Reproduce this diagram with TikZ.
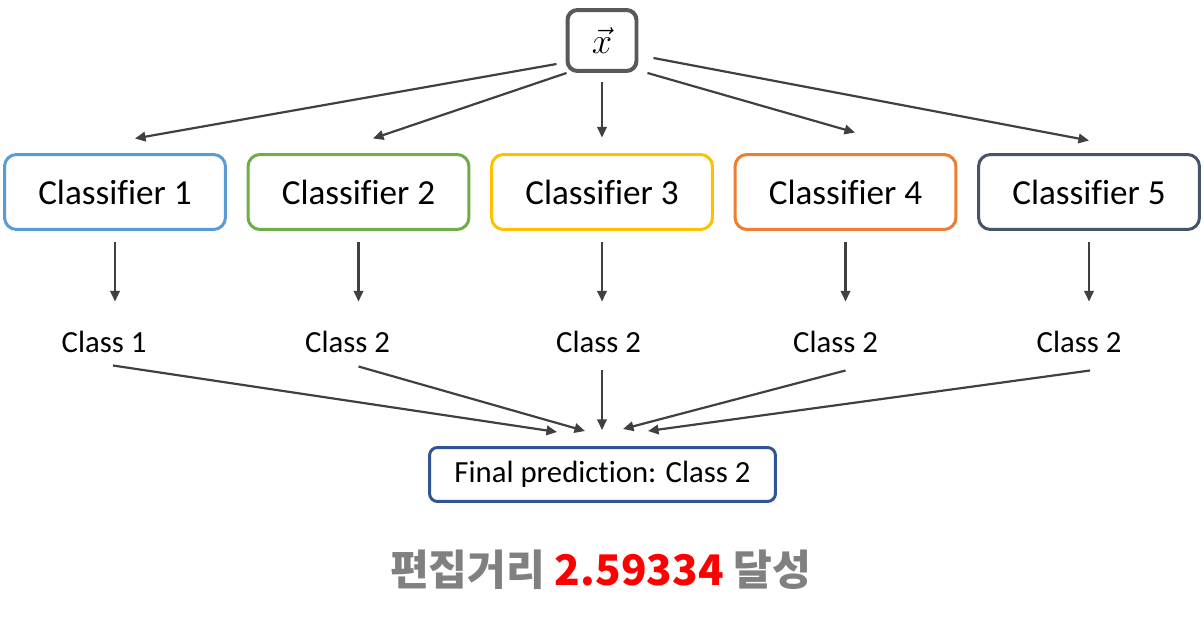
\documentclass[tikz,border=0pt]{standalone}
\usepackage{fontspec}
\setmainfont{Carlito}[Ligatures=NoCommon]
\newfontfamily\kofont{Noto Sans CJK KR}
\usepackage{tikz}
\usetikzlibrary{positioning,arrows.meta,calc}
\definecolor{clfone}{RGB}{91,155,213}
\definecolor{clftwo}{RGB}{112,173,71}
\definecolor{clfthree}{RGB}{255,192,0}
\definecolor{clffour}{RGB}{237,125,49}
\definecolor{clffive}{RGB}{68,84,106}
\definecolor{finalblue}{RGB}{47,85,151}
\definecolor{linegray}{RGB}{64,64,64}
\definecolor{boxgray}{RGB}{89,89,89}
\definecolor{txtgray}{RGB}{128,128,128}

\begin{document}
\begin{tikzpicture}[x=0.02cm, y=-0.02cm,
    clf/.style={draw, line width=0.06cm, rounded corners=0.24cm, fill=white,
      minimum width=4.42cm, minimum height=1.5cm, font=\fontsize{20}{24}\selectfont},
    xbox/.style={draw=boxgray, line width=0.08cm, rounded corners=0.2cm,
      minimum width=1.38cm, minimum height=1.22cm, font=\fontsize{22}{26}\selectfont},
    finalbox/.style={draw=finalblue, line width=0.06cm, rounded corners=0.16cm,
      minimum width=6.92cm, minimum height=1.08cm, font=\fontsize{17.5}{21}\selectfont},
    lbl/.style={inner sep=0pt, anchor=base, font=\fontsize{17.5}{21}\selectfont},
    arr/.style={draw=linegray, line width=1.25pt, -{Triangle[length=6pt,width=5.4pt]}}]
  \useasboundingbox (0,0) rectangle (1204,618);
  % input and classifiers
  \node[xbox] (x) at (602,40.5) {$\vec{x}$};
  \foreach \i/\xx/\col in {1/115/clfone, 2/358.5/clftwo, 3/602/clfthree, 4/845.5/clffour, 5/1089/clffive}
    \node[clf, draw=\col] (c\i) at (\xx,192) {Classifier \i};
  % votes
  \foreach \i/\cls/\dx in {1/1/-11, 2/2/-11, 3/2/-3.5, 4/2/-10, 5/2/-10}{
    \node[lbl] (l\i) at ($(c\i.south)+(\dx,121.5)$) {Class \cls};
    \draw[arr] ($(c\i.south)+(0,11.5)$) -- ($(c\i.south)+(0,70.5)$);
  }
  \node[finalbox] (f) at (602.5,474.5) {Final prediction: Class 2};
  % x to classifiers
  \draw[arr] ($(x.west)+(-9,23.5)$) -- ($(c1.north)+(20,-14.5)$);
  \draw[arr] ($(x.south west)+(1,0)$) -- ($(c2.north)+(14.5,-14.5)$);
  \draw[arr] ($(x.south)+(0,9)$) -- ($(c3.north)+(0,-15.5)$);
  \draw[arr] ($(x.south east)+(9,0)$) -- ($(c4.north)+(9.5,-20.5)$);
  \draw[arr] ($(x.east)+(15,17.5)$) -- ($(c5.north)+(0,-12.5)$);
  % classes to final prediction
  \foreach \i/\sx/\sy/\tx/\ty in {1/-2/134.5/-45.5/-14, 2/0/135.5/-17.5/-15, 3/0/139.5/-0.5/-16, 4/0/139.5/20.5/-17, 5/1/139.5/45.5/-15}
    \draw[arr] ($(c\i.south)+(\sx,\sy)$) -- ($(f.north)+(\tx,\ty)$);
  \node[anchor=base, font=\kofont\bfseries\fontsize{24}{28}\selectfont, text=txtgray] (score) at (600.5,585)
    {편집거리 \textcolor{red}{2.59334} 달성};
\end{tikzpicture}
\end{document}
